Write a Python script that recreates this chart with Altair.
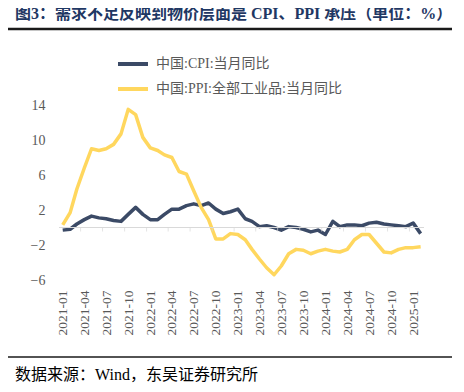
import altair as alt
import pandas as pd

months = [f"{y}-{m:02d}" for y in range(2021, 2026) for m in range(1, 13)][:50]

cpi = [-0.3, -0.2, 0.4, 0.9, 1.3, 1.1, 1.0, 0.8, 0.7, 1.5, 2.3, 1.5,
       0.9, 0.9, 1.5, 2.1, 2.1, 2.5, 2.7, 2.5, 2.8, 2.1, 1.6, 1.8,
       2.1, 1.0, 0.7, 0.1, 0.2, 0.0, -0.3, 0.1, 0.0, -0.2, -0.5, -0.3,
       -0.8, 0.7, 0.1, 0.3, 0.3, 0.2, 0.5, 0.6, 0.4, 0.3, 0.2, 0.1,
       0.5, -0.7]
ppi = [0.3, 1.7, 4.4, 6.8, 9.0, 8.8, 9.0, 9.5, 10.7, 13.5, 12.9, 10.3,
       9.1, 8.8, 8.3, 8.0, 6.4, 6.1, 4.2, 2.3, 0.9, -1.3, -1.3, -0.7,
       -0.8, -1.4, -2.5, -3.6, -4.6, -5.4, -4.4, -3.0, -2.5, -2.6, -3.0, -2.7,
       -2.5, -2.7, -2.8, -2.5, -1.4, -0.8, -0.8, -1.8, -2.8, -2.9, -2.5, -2.3,
       -2.3, -2.2]

s_cpi = "中国:CPI:当月同比"
s_ppi = "中国:PPI:全部工业品:当月同比"
y_ticks = [-6, -2, 2, 6, 10, 14]
title_text = "图3：需求不足反映到物价层面是 CPI、PPI 承压（单位：%）"
source_text = "数据来源：Wind，东吴证券研究所"

def ms(s):
    return int(pd.Timestamp(s, tz="UTC").value // 10**6)

df = pd.DataFrame({
    "date": [m + "-01" for m in months] * 2,
    "series": [s_cpi] * len(months) + [s_ppi] * len(months),
    "value": cpi + ppi,
})

ts = [pd.Timestamp(m + "-01", tz="UTC") for m in months] + [pd.Timestamp("2025-03-01", tz="UTC")]
tick_dates = [(ts[i] + (ts[i + 1] - ts[i]) / 2).strftime("%Y-%m-%dT%H:%M:%SZ") for i in range(2, 48, 3)]
df_ticks = pd.DataFrame({"date": tick_dates, "y": [0] * len(tick_dates)})

x_domain = [ms("2020-12-16 12:00"), ms("2025-02-15")]
x_values = [ms(m + "-01") for m in months[::3]]

FONT = "Liberation Serif, Noto Sans CJK SC"
GRAY = "#595959"

x_scale = alt.Scale(type="utc", domain=x_domain, nice=False)
y_scale = alt.Scale(domain=[-6, 14], nice=False, zero=False)

x_axis = alt.Axis(values=x_values, labelExpr="utcFormat(datum.value, '%Y-%m')",
                  labelAngle=-90, labelPadding=10, ticks=False, tickSize=0,
                  domain=False, grid=False, labelFont=FONT, labelFontSize=13.5,
                  labelColor=GRAY, labelOverlap=False, title=None)
y_axis = alt.Axis(values=y_ticks, ticks=False, tickSize=0, domain=False, grid=False,
                  labelPadding=14, labelFont=FONT, labelFontSize=14, labelColor=GRAY,
                  labelOverlap=False, title=None)

lines = alt.Chart(df).mark_line(strokeWidth=3.5, strokeJoin="round").encode(
    x=alt.X("date:T", scale=x_scale, axis=x_axis),
    y=alt.Y("value:Q", scale=y_scale, axis=y_axis),
    color=alt.Color("series:N", scale=alt.Scale(domain=[s_cpi, s_ppi], range=["#3B4A66", "#FFD75E"]),
                    legend=alt.Legend(title=None, orient="none", legendX=57, legendY=-58,
                                      direction="vertical", symbolType="stroke", symbolSize=900,
                                      symbolStrokeWidth=4, labelFont=FONT, labelFontSize=14,
                                      labelColor=GRAY, labelOffset=6, rowPadding=0, padding=0,
                                      labelLimit=400)),
)

zero = alt.Chart(pd.DataFrame({"y": [0]})).mark_rule(color="#D9D9D9", strokeWidth=1).encode(
    y=alt.Y("y:Q", scale=y_scale, axis=y_axis))

ticks = alt.Chart(df_ticks).mark_tick(color="#D9D9D9", size=4, thickness=1, orient="vertical", yOffset=2).encode(
    x=alt.X("date:T", scale=x_scale, axis=x_axis), y=alt.Y("y:Q", scale=y_scale, axis=y_axis))

title = alt.Chart(pd.DataFrame({"t": [title_text]})).mark_text(
    align="left", baseline="middle", font=FONT, fontSize=16, fontWeight="bold",
    color="#1F3864").encode(x=alt.value(-44), y=alt.value(-91), text="t:N")

top_rule = alt.Chart(pd.DataFrame({"a": [0]})).mark_rule(color="#1A1A1A", strokeWidth=2.3).encode(
    x=alt.value(-51), x2=alt.value(393), y=alt.value(-76))

bottom_rule = alt.Chart(pd.DataFrame({"a": [0]})).mark_rule(color="#1A1A1A", strokeWidth=1.5).encode(
    x=alt.value(-51), x2=alt.value(393), y=alt.value(252))

source = alt.Chart(pd.DataFrame({"t": [source_text]})).mark_text(
    align="left", baseline="middle", font=FONT, fontSize=16, color="#000000").encode(
    x=alt.value(-44), y=alt.value(270), text="t:N")

chart = alt.layer(lines, zero, ticks, title, top_rule, bottom_rule, source).properties(
    width=365, height=175,
    autosize=alt.AutoSizeParams(type="none"),
    padding={"left": 51, "top": 97, "right": 32, "bottom": 104},
    background="white",
).configure_view(stroke=None)

chart.save("out.html", embed_options={"renderer": "svg", "actions": False})
